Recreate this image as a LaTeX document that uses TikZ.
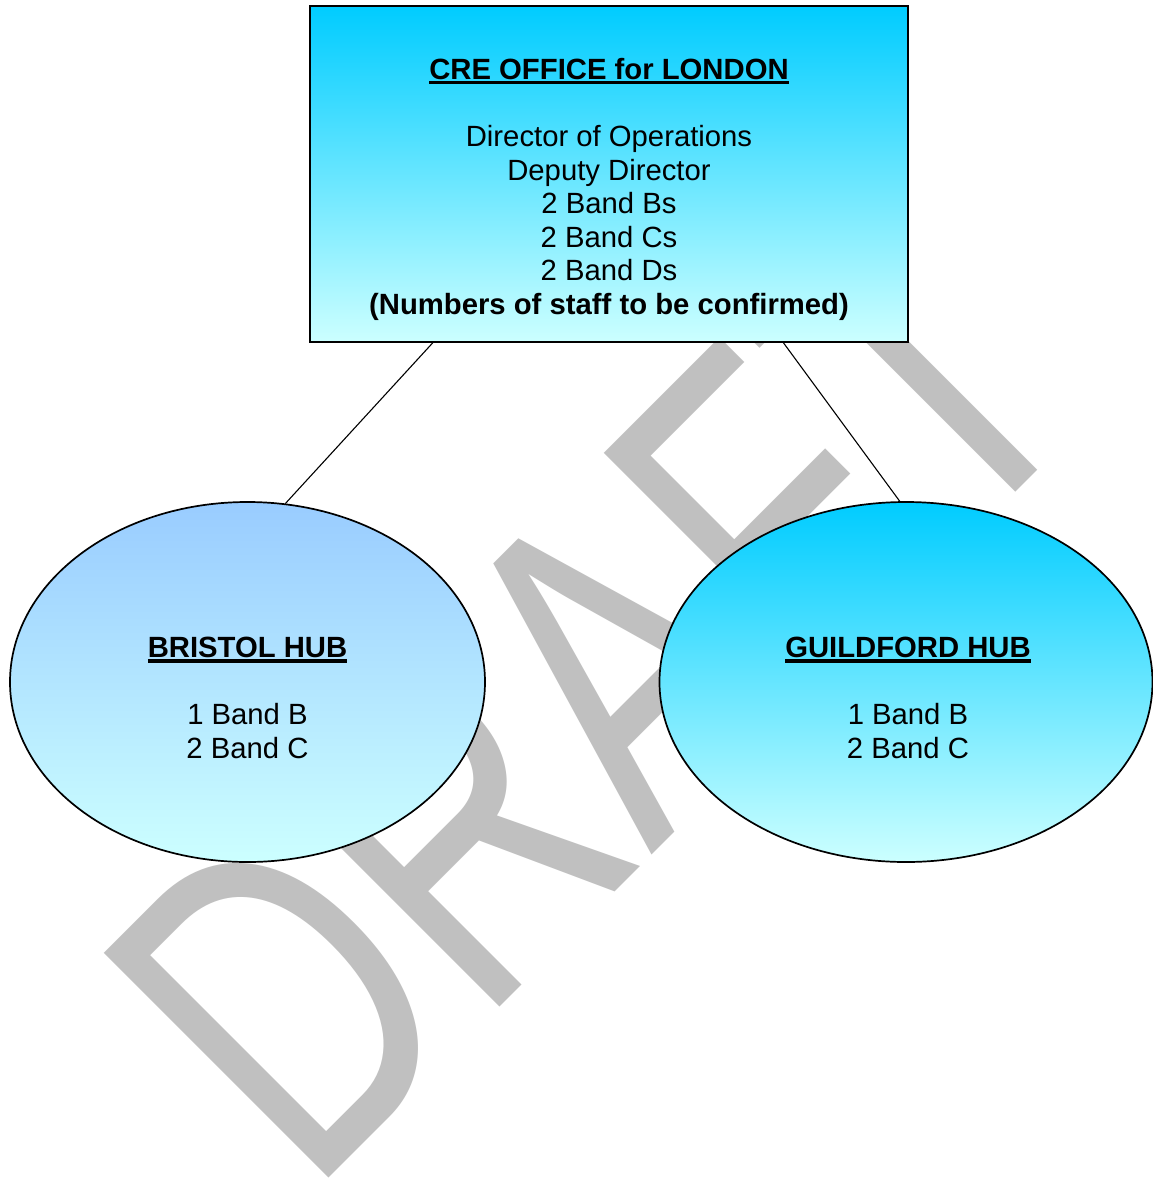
\documentclass[tikz,border=0pt]{standalone}
\usepackage{fontspec}
\setmainfont{Liberation Sans}
\usetikzlibrary{shapes.geometric,calc}
\definecolor{wmgray}{RGB}{192,192,192}
\definecolor{cyantop}{RGB}{0,204,255}
\definecolor{lightcyan}{RGB}{204,255,255}
\definecolor{bluetop}{RGB}{153,204,255}
\newsavebox{\ulbox}
\newcommand{\myul}[1]{\sbox{\ulbox}{#1}\rlap{\rule[-2pt]{\wd\ulbox}{1.4pt}}\usebox{\ulbox}}
\begin{document}
\begin{tikzpicture}[x=0.41pt,y=-0.41pt,
  txt/.style={font=\fontsize{12}{13.78}\selectfont, align=center, inner sep=0pt, anchor=base},
  officebox/.style={rectangle, draw=black, line width=0.75pt, bottom color=lightcyan, top color=cyantop,
    minimum width=245.18pt, minimum height=137.76pt, inner sep=0pt},
  hub/.style={ellipse, draw=black, line width=0.7pt, bottom color=lightcyan,
    minimum height=147.6pt, inner sep=0pt},
  link/.style={draw=black, line width=0.45pt},
  wm/.style={text=wmgray, font=\fontsize{189.4}{189.4}\selectfont, inner sep=0pt, outer sep=0pt,
    anchor=base west, rotate=45}]
\fill[white] (0,0) rectangle (1153,1180);
\useasboundingbox (0,0) rectangle (1153,1180);
% watermark
\node[wm] (draft) at (309.7,1197.8) {\scalebox{0.725}[1]{DRAFT}};
% shapes
\node[officebox] (office) at (609,174) {};
\node[hub, top color=bluetop, minimum width=194.75pt] (bristol) at (247.5,682) {};
\node[hub, top color=cyantop, minimum width=202.13pt] (guildford) at (906,682) {};
% connectors
\draw[link] ($(office.south west)!0.206!(office.south east)$) -- (bristol.78);
\draw[link] ($(office.south west)!0.791!(office.south east)$) -- (guildford.92);
% texts (anchor = baseline of last line)
\node[txt] (officetext) at (609,314.5) {\myul{\textbf{CRE OFFICE for LONDON}}\\[13.78pt]Director of Operations\\Deputy Director\\2 Band Bs\\2 Band Cs\\2 Band Ds\\\textbf{(Numbers of staff to be confirmed)}};
\node[txt] (bristoltext) at (247.5,758.5) {\myul{\textbf{BRISTOL HUB}}\\[13.78pt]1 Band B\\2 Band C};
\node[txt] (guildfordtext) at (908,758.5) {\myul{\textbf{GUILDFORD HUB}}\\[13.78pt]1 Band B\\2 Band C};
\end{tikzpicture}
\end{document}
